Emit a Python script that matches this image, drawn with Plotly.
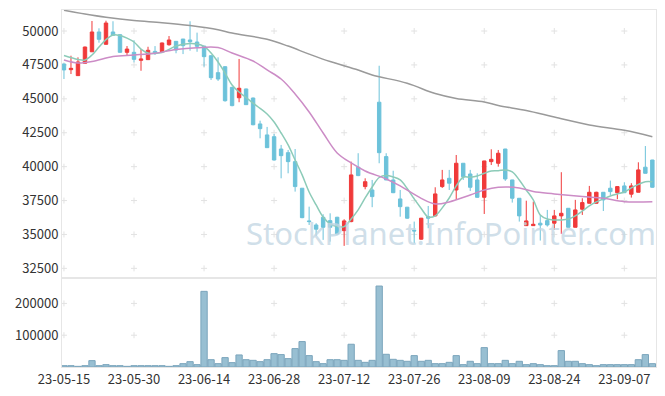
import plotly.graph_objects as go
from plotly.subplots import make_subplots

dates = [
    "23-05-15","23-05-16","23-05-17","23-05-18","23-05-19","23-05-22","23-05-23","23-05-24","23-05-25","23-05-26",
    "23-05-30","23-05-31","23-06-01","23-06-02","23-06-05","23-06-07","23-06-08","23-06-09","23-06-12","23-06-13",
    "23-06-14","23-06-15","23-06-16","23-06-19","23-06-20","23-06-21","23-06-22","23-06-23","23-06-26","23-06-27",
    "23-06-28","23-06-29","23-06-30","23-07-03","23-07-04","23-07-05","23-07-06","23-07-07","23-07-10","23-07-11",
    "23-07-12","23-07-13","23-07-14","23-07-17","23-07-18","23-07-19","23-07-20","23-07-21","23-07-24","23-07-25",
    "23-07-26","23-07-27","23-07-28","23-07-31","23-08-01","23-08-02","23-08-03","23-08-04","23-08-07","23-08-08",
    "23-08-09","23-08-10","23-08-11","23-08-14","23-08-16","23-08-17","23-08-18","23-08-21","23-08-22","23-08-23",
    "23-08-24","23-08-25","23-08-28","23-08-29","23-08-30","23-08-31","23-09-01","23-09-04","23-09-05","23-09-06",
    "23-09-07","23-09-08","23-09-11","23-09-12","23-09-13",
]

open_ = [47570,47150,46710,47620,48470,49930,49020,49930,49730,48430,
         48430,47840,47890,48500,48470,48990,49240,49410,49340,49190,
         48890,48180,46930,47370,45850,45080,45730,45060,43150,42340,
         42210,41300,41030,40370,38410,36000,35700,36270,36020,36270,
         35280,35950,39960,38530,38280,44750,40740,39020,37620,37010,
         35300,34650,36310,36370,38530,39140,38280,40250,39460,39020,
         37740,40370,40250,41300,39020,37670,35650,35650,35830,36020,
         35830,36370,36930,35530,36860,37300,37300,38110,38410,38080,
         38580,37970,38110,39960,40490]
high = [47600,48180,48060,48850,50740,50200,50760,50720,49750,48890,
        49320,48670,48840,48890,49150,49630,49250,49410,50720,49880,
        48890,48200,48060,47400,45880,47940,45750,45090,43390,42930,
        42410,41600,41230,41300,38420,37050,35830,36490,36560,36300,
        36120,40370,40990,39140,39020,47440,40990,39700,38280,37030,
        35950,36220,37100,38480,39760,39760,40860,40260,39760,39510,
        40430,41280,41230,41310,39030,37680,37490,37420,36440,36810,
        36810,39590,36950,37550,37670,38580,38150,38120,38970,38560,
        38850,38780,40320,41520,40500]
low = [46460,46830,46700,47600,48450,49140,49000,49680,48400,48160,
       47690,47070,47880,48230,48470,48920,48360,48300,48550,48470,
       47370,46390,46320,44790,44450,44750,44550,43050,42090,41380,
       40450,39140,39510,38160,36200,35700,34890,34600,34470,35000,
       34160,35900,39300,38330,37010,40250,39000,38050,36310,36150,
       34350,34620,35460,36340,38430,38280,37550,39020,38210,37700,
       36510,40120,40000,38950,37350,35950,35640,35640,34550,35580,
       35330,35040,35520,35520,36440,37290,37280,36730,37910,37600,
       38050,37720,38100,39500,38450]
close = [47130,47250,47720,48820,49930,49390,50590,49680,48430,48670,
         47910,47940,48580,48360,49120,49340,48600,48920,49210,48870,
         48110,46560,46460,44860,44500,45780,44570,43090,42800,41400,
         40490,40810,40370,38530,36240,35950,35390,35530,35530,35040,
         36000,39390,39340,38890,37790,41030,39020,38080,37050,36200,
         35260,36200,36200,37990,39020,38780,40250,39260,38480,37740,
         40420,40540,40990,39090,37670,36370,36000,35750,35700,35700,
         36370,36560,35530,36810,37350,38110,38110,37550,38160,38530,
         38080,38580,39760,39510,38480]
volume = [4200,4200,2100,4200,20000,4200,7400,4200,4200,2100,
          4200,4200,4200,4200,4200,2100,4200,10500,16800,7400,
          238000,23000,10500,29500,13700,37900,23000,21000,16800,23000,
          42000,39000,26300,57900,80000,35800,16800,10500,23000,23000,
          21000,71600,21000,14700,21000,254700,40000,24200,21000,17900,
          35800,17900,21000,10500,10500,14700,35800,7400,17900,10500,
          61000,10500,10500,21000,10500,17900,7400,10500,7400,4200,
          4200,51600,17900,17900,10500,7400,4200,7400,7400,7400,
          7400,7400,23000,39000,10500]

# moving averages (5-day, 20-day, 60-day)
ma5 = [48190,None,47900,47860,48230,48820,49370,49710,49670,49480,
       49190,48670,48380,None,48420,None,48890,None,49080,49040,
       48860,48380,47720,46900,46020,45500,45100,44690,44300,43880,
       43290,42480,41600,40490,39390,38130,37180,36290,35780,35580,
       35580,36140,36810,37690,38500,39200,39350,39240,39020,38390,
       37620,36920,36290,36370,36960,37690,38580,39220,39220,39310,
       39510,39680,39700,39760,39610,39020,38280,37550,36440,36140,
       36070,36070,36140,36370,36730,37100,37400,37620,37840,37990,
       38130,38430,38690,38890,38890]
ma20_idx = [0,2,4,7,10,13,16,19,22,24,27,29,31,33,35,37,39,41,43,46,48,51,53,55,58,60,62,65,67,70,74,77,80,84]
ma20 = [47860,47640,47750,48120,48230,48360,48640,48770,48780,48380,47790,47130,46460,45360,44030,42480,41010,40270,39680,39090,
        38580,37660,37250,37400,37910,38280,38480,38430,38160,37990,37790,37670,37420,37420]
ma60_idx = [0,3,6,10,14,18,22,24,29,32,35,38,42,44,49,53,56,60,62,66,70,75,80,84]
ma60 = [51530,51250,51010,50770,50610,50400,50100,49850,49390,48890,48300,47750,47130,46760,46150,45390,45030,44770,44510,44140,
        43660,43070,42680,42210]

price_ticks = [32500, 35000, 37500, 40000, 42500, 45000, 47500, 50000]
volume_ticks = [100000, 200000]
x_tick_pos = list(range(0, len(dates), 10))
x_ticks = [dates[i] for i in x_tick_pos]

RED = "#f03a3a"
BLUE = "#6cc2da"
FONT = "Noto Sans CJK KR"
GRID = "#e2e2e2"

fig = make_subplots(rows=2, cols=1, shared_xaxes=True, vertical_spacing=0,
                    row_heights=[268, 89])

fig.add_trace(go.Candlestick(
    x=dates, open=open_, high=high, low=low, close=close,
    increasing=dict(line=dict(color=RED, width=1), fillcolor=RED),
    decreasing=dict(line=dict(color=BLUE, width=1), fillcolor=BLUE),
    whiskerwidth=0,
), row=1, col=1)

fig.add_trace(go.Scatter(x=dates, y=ma5, mode="lines", connectgaps=True,
                         line=dict(color="#8ccbb8", width=1.5, shape="spline")),
              row=1, col=1)
fig.add_trace(go.Scatter(x=[dates[i] for i in ma20_idx], y=ma20, mode="lines",
                         line=dict(color="#cc8cc6", width=1.5, shape="spline")),
              row=1, col=1)
fig.add_trace(go.Scatter(x=[dates[i] for i in ma60_idx], y=ma60, mode="lines",
                         line=dict(color="#9a9a9a", width=1.5, shape="spline")),
              row=1, col=1)

fig.add_trace(go.Bar(x=dates, y=volume,
                     marker=dict(color="#98bfd2", line=dict(color="#7ba5bc", width=1))),
              row=2, col=1)

# grid crosses at tick intersections, drawn below the data
def add_cross(xpos, yval, xref, yref):
    fig.add_shape(type="line", layer="below", xref=xref, yref=yref,
                  xsizemode="pixel", xanchor=xpos, x0=-3, x1=3, y0=yval, y1=yval,
                  line=dict(color=GRID, width=1))
    fig.add_shape(type="line", layer="below", xref=xref, yref=yref,
                  ysizemode="pixel", yanchor=yval, y0=-3, y1=3, x0=xpos, x1=xpos,
                  line=dict(color=GRID, width=1))

for xp in x_tick_pos:
    for v in price_ticks:
        add_cross(xp, v, "x", "y")
    for v in volume_ticks:
        add_cross(xp, v, "x2", "y2")

fig.add_annotation(text="StockPlanet.InfoPointer.com", xref="paper", yref="paper",
                   x=0.655, y=0.31, showarrow=False,
                   font=dict(family="Noto Sans", size=31, color="rgba(196,215,228,0.8)"))

axis_common = dict(showgrid=False, zeroline=False, showline=True, mirror=True,
                   linecolor="#e6e6e6", linewidth=1, automargin=False)
fig.update_xaxes(type="category", categoryorder="array", categoryarray=dates,
                 range=[-0.28, 84.52], rangeslider=dict(visible=False),
                 tickmode="array", tickvals=x_ticks, ticktext=x_ticks,
                 ticks="", tickfont=dict(family=FONT, size=13, color="#333"),
                 **axis_common)
fig.update_xaxes(showticklabels=False, row=1, col=1)
fig.update_yaxes(range=[31790, 51550], tickmode="array", tickvals=price_ticks,
                 ticktext=[str(v) for v in price_ticks],
                 ticks="", tickfont=dict(family=FONT, size=13, color="#333"),
                 **axis_common, row=1, col=1)
fig.update_yaxes(range=[0, 280000], tickmode="array", tickvals=volume_ticks,
                 ticktext=[str(v) for v in volume_ticks],
                 ticks="", tickfont=dict(family=FONT, size=13, color="#333"),
                 **axis_common, row=2, col=1)

fig.update_layout(width=665, height=396, margin=dict(l=62, r=9, t=10, b=29, autoexpand=False),
                  paper_bgcolor="white", plot_bgcolor="white", showlegend=False,
                  bargap=0.1, boxgap=0.3)

fig.write_html("out.html", config={"displayModeBar": False},
               post_script="document.body.style.margin='0';")
